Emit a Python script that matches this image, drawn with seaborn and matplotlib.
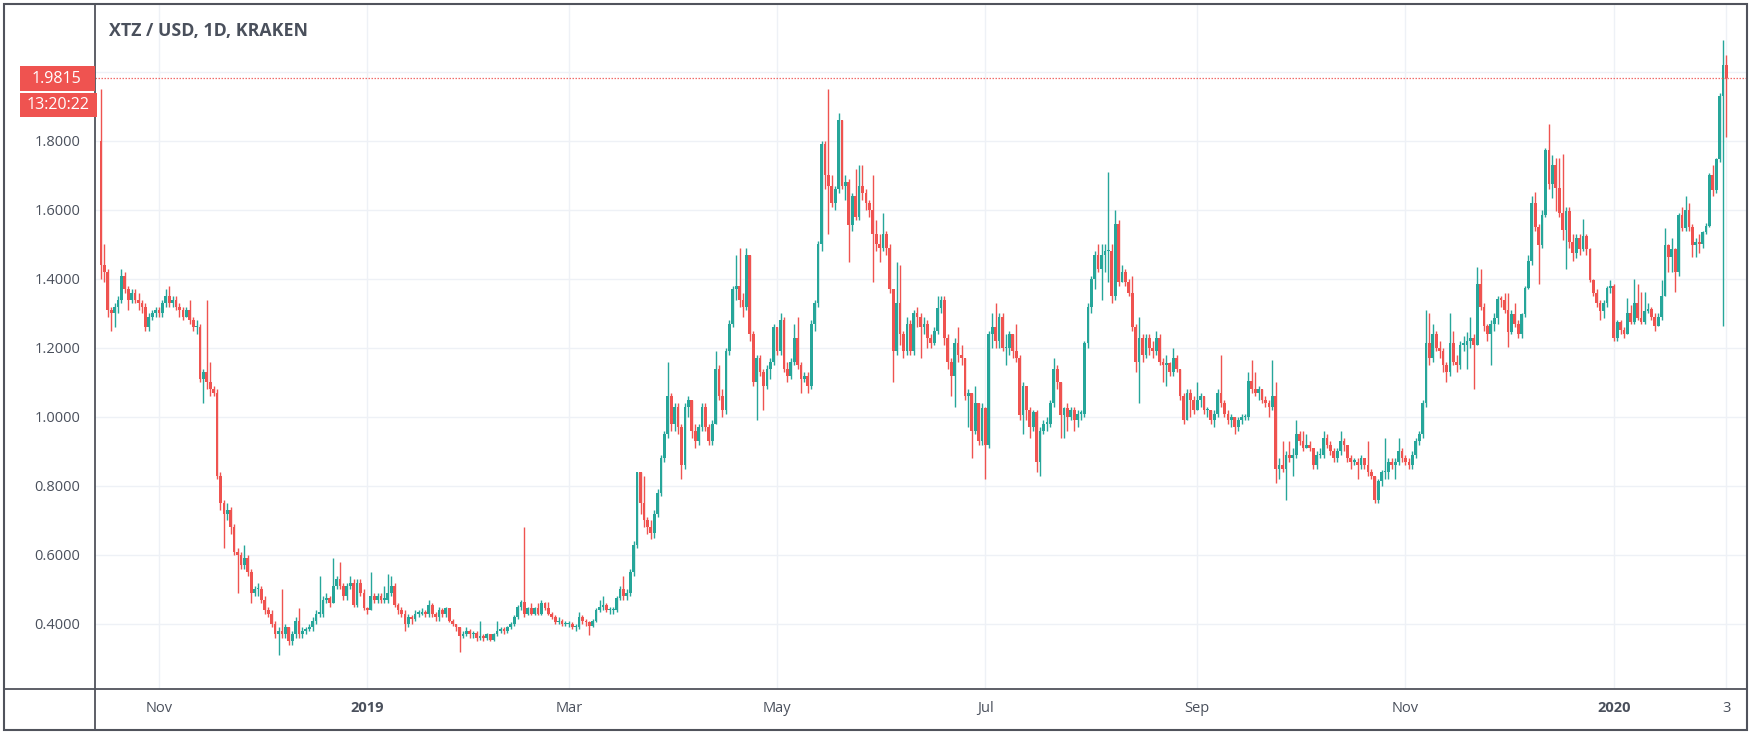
import numpy as np
import pandas as pd
import matplotlib
matplotlib.use("Agg")
import matplotlib.pyplot as plt
import matplotlib.dates as mdates
from matplotlib.patches import Rectangle
from matplotlib.lines import Line2D
import seaborn as sns

# ---------------- data (daily candles, Kraken XTZ/USD) ----------------
START_DATE = "2018-10-15"
FIRST_OPEN = 1.80

CLOSE = [
    1.44, 1.42, 1.31, 1.30, 1.32, 1.34, 1.41, 1.37, 1.34, 1.36,
    1.34, 1.33, 1.32, 1.26, 1.29, 1.30, 1.31, 1.30, 1.33, 1.35,
    1.33, 1.34, 1.32, 1.31, 1.29, 1.31, 1.28, 1.26, 1.26, 1.11,
    1.13, 1.10, 1.08, 1.07, 0.83, 0.75, 0.72, 0.73, 0.68, 0.61,
    0.60, 0.57, 0.59, 0.55, 0.49, 0.50, 0.50, 0.47, 0.44, 0.43,
    0.40, 0.37, 0.38, 0.37, 0.39, 0.35, 0.37, 0.41, 0.37, 0.38,
    0.385, 0.39, 0.41, 0.43, 0.43, 0.47, 0.475, 0.46, 0.51, 0.53,
    0.51, 0.48, 0.51, 0.52, 0.455, 0.52, 0.49, 0.445, 0.44, 0.48,
    0.47, 0.48, 0.47, 0.47, 0.49, 0.51, 0.455, 0.44, 0.43, 0.40,
    0.42, 0.415, 0.43, 0.43, 0.435, 0.43, 0.455, 0.43, 0.42, 0.44,
    0.43, 0.445, 0.41, 0.40, 0.39, 0.365, 0.37, 0.38, 0.37, 0.375,
    0.36, 0.365, 0.36, 0.37, 0.355, 0.37, 0.38, 0.385, 0.38, 0.39,
    0.40, 0.42, 0.45, 0.465, 0.43, 0.445, 0.43, 0.445, 0.43, 0.46,
    0.445, 0.43, 0.42, 0.405, 0.41, 0.40, 0.40, 0.40, 0.39, 0.39,
    0.42, 0.41, 0.405, 0.395, 0.41, 0.44, 0.45, 0.455, 0.44, 0.44,
    0.44, 0.475, 0.50, 0.48, 0.49, 0.55, 0.63, 0.84, 0.75, 0.70,
    0.68, 0.665, 0.72, 0.78, 0.88, 0.95, 1.06, 0.98, 1.03, 0.97,
    0.86, 1.03, 1.05, 0.96, 0.93, 0.97, 1.03, 0.97, 0.93, 0.98,
    1.14, 1.06, 1.02, 1.19, 1.27, 1.37, 1.38, 1.34, 1.32, 1.47,
    1.24, 1.10, 1.17, 1.13, 1.09, 1.14, 1.16, 1.26, 1.19, 1.28,
    1.14, 1.12, 1.16, 1.23, 1.15, 1.11, 1.12, 1.09, 1.27, 1.33,
    1.50, 1.79, 1.70, 1.67, 1.62, 1.66, 1.86, 1.67, 1.68, 1.555,
    1.64, 1.58, 1.67, 1.65, 1.62, 1.60, 1.53, 1.50, 1.49, 1.53,
    1.49, 1.37, 1.19, 1.33, 1.24, 1.19, 1.27, 1.19, 1.30, 1.29,
    1.26, 1.27, 1.23, 1.215, 1.25, 1.315, 1.34, 1.23, 1.16, 1.12,
    1.215, 1.18, 1.17, 1.06, 1.07, 0.96, 1.04, 0.93, 1.025, 0.92,
    1.24, 1.26, 1.22, 1.29, 1.20, 1.20, 1.24, 1.19, 1.17, 1.005,
    1.09, 1.02, 0.97, 1.015, 0.87, 0.96, 0.98, 0.98, 1.04, 1.14,
    1.10, 1.005, 1.025, 1.00, 1.02, 0.99, 1.01, 1.01, 1.215, 1.32,
    1.40, 1.47, 1.43, 1.47, 1.48, 1.48, 1.35, 1.56, 1.39, 1.42,
    1.39, 1.36, 1.26, 1.16, 1.23, 1.18, 1.23, 1.20, 1.19, 1.23,
    1.16, 1.15, 1.155, 1.13, 1.17, 1.14, 1.06, 0.99, 1.07, 1.05,
    1.02, 1.05, 1.06, 1.02, 1.02, 0.99, 1.01, 1.07, 1.04, 1.01,
    0.99, 1.00, 0.97, 0.99, 1.00, 1.00, 1.105, 1.08, 1.07, 1.08,
    1.05, 1.04, 1.03, 1.06, 0.85, 0.86, 0.85, 0.89, 0.88, 0.89,
    0.95, 0.93, 0.91, 0.92, 0.91, 0.86, 0.89, 0.89, 0.94, 0.92,
    0.90, 0.88, 0.90, 0.93, 0.92, 0.88, 0.87, 0.87, 0.86, 0.88,
    0.86, 0.84, 0.83, 0.76, 0.815, 0.84, 0.84, 0.87, 0.86, 0.87,
    0.90, 0.88, 0.87, 0.86, 0.89, 0.93, 0.95, 1.04, 1.215, 1.17,
    1.24, 1.20, 1.19, 1.15, 1.13, 1.215, 1.16, 1.15, 1.21, 1.21,
    1.22, 1.23, 1.21, 1.386, 1.32, 1.263, 1.24, 1.27, 1.286, 1.341,
    1.34, 1.31, 1.247, 1.297, 1.27, 1.24, 1.297, 1.374, 1.452, 1.619,
    1.552, 1.497, 1.586, 1.774, 1.674, 1.73, 1.663, 1.591, 1.541, 1.597,
    1.508, 1.474, 1.52, 1.486, 1.524, 1.486, 1.397, 1.358, 1.33, 1.308,
    1.33, 1.374, 1.38, 1.23, 1.274, 1.252, 1.241, 1.30, 1.274, 1.33,
    1.286, 1.274, 1.308, 1.313, 1.29, 1.263, 1.29, 1.352, 1.497, 1.463,
    1.486, 1.419, 1.586, 1.547, 1.60, 1.552, 1.497, 1.508, 1.502, 1.536,
    1.553, 1.702, 1.658, 1.747, 1.93, 2.02, 1.9815,
]

HIGH = [
    1.95, 1.50, 1.43, 1.32, 1.33, 1.35, 1.43, 1.42, 1.38, 1.37,
    1.37, 1.36, 1.34, 1.33, 1.30, 1.31, 1.32, 1.32, 1.34, 1.37,
    1.38, 1.35, 1.35, 1.33, 1.32, 1.32, 1.34, 1.29, 1.28, 1.27,
    1.14, 1.34, 1.16, 1.09, 1.08, 0.84, 0.76, 0.75, 0.74, 0.69,
    0.62, 0.61, 0.63, 0.60, 0.56, 0.51, 0.52, 0.51, 0.48, 0.45,
    0.44, 0.41, 0.39, 0.50, 0.40, 0.39, 0.38, 0.42, 0.445, 0.39,
    0.39, 0.40, 0.42, 0.44, 0.54, 0.48, 0.49, 0.48, 0.59, 0.54,
    0.58, 0.52, 0.52, 0.54, 0.53, 0.53, 0.53, 0.50, 0.45, 0.55,
    0.49, 0.49, 0.49, 0.51, 0.545, 0.54, 0.52, 0.46, 0.45, 0.44,
    0.43, 0.425, 0.44, 0.44, 0.445, 0.44, 0.47, 0.46, 0.435, 0.45,
    0.445, 0.45, 0.445, 0.415, 0.40, 0.39, 0.38, 0.39, 0.385, 0.38,
    0.38, 0.41, 0.37, 0.375, 0.37, 0.375, 0.41, 0.39, 0.39, 0.395,
    0.405, 0.425, 0.455, 0.47, 0.68, 0.45, 0.46, 0.45, 0.46, 0.47,
    0.465, 0.465, 0.435, 0.425, 0.42, 0.415, 0.41, 0.41, 0.405, 0.40,
    0.435, 0.425, 0.415, 0.41, 0.415, 0.445, 0.47, 0.48, 0.46, 0.45,
    0.45, 0.48, 0.51, 0.54, 0.50, 0.56, 0.64, 0.84, 0.84, 0.83,
    0.71, 0.70, 0.73, 0.79, 0.89, 0.96, 1.16, 1.07, 1.04, 1.04,
    0.98, 1.04, 1.06, 1.05, 0.98, 0.98, 1.04, 1.04, 0.98, 0.99,
    1.19, 1.15, 1.08, 1.20, 1.28, 1.38, 1.47, 1.49, 1.36, 1.49,
    1.47, 1.25, 1.18, 1.18, 1.14, 1.15, 1.17, 1.27, 1.26, 1.30,
    1.29, 1.16, 1.17, 1.27, 1.29, 1.16, 1.13, 1.13, 1.28, 1.34,
    1.51, 1.80, 1.80, 1.95, 1.70, 1.67, 1.88, 1.86, 1.70, 1.69,
    1.65, 1.72, 1.73, 1.73, 1.66, 1.63, 1.70, 1.57, 1.53, 1.59,
    1.54, 1.50, 1.37, 1.45, 1.44, 1.25, 1.29, 1.28, 1.31, 1.32,
    1.30, 1.29, 1.28, 1.24, 1.26, 1.35, 1.35, 1.35, 1.24, 1.17,
    1.23, 1.26, 1.21, 1.17, 1.08, 1.07, 1.09, 1.04, 1.04, 1.03,
    1.25, 1.30, 1.33, 1.30, 1.30, 1.24, 1.25, 1.24, 1.27, 1.18,
    1.10, 1.09, 1.03, 1.02, 1.02, 0.97, 0.99, 1.00, 1.05, 1.17,
    1.15, 1.10, 1.03, 1.04, 1.03, 1.03, 1.02, 1.02, 1.22, 1.33,
    1.41, 1.48, 1.50, 1.50, 1.50, 1.71, 1.50, 1.60, 1.57, 1.44,
    1.43, 1.40, 1.41, 1.27, 1.29, 1.24, 1.24, 1.24, 1.22, 1.25,
    1.24, 1.17, 1.18, 1.16, 1.20, 1.18, 1.14, 1.07, 1.08, 1.08,
    1.06, 1.10, 1.07, 1.06, 1.03, 1.02, 1.02, 1.08, 1.18, 1.05,
    1.02, 1.01, 1.00, 1.00, 1.01, 1.01, 1.13, 1.165, 1.13, 1.09,
    1.08, 1.06, 1.05, 1.165, 1.10, 0.88, 0.93, 0.90, 0.93, 0.91,
    0.99, 0.96, 0.96, 0.95, 0.93, 0.91, 0.90, 0.91, 0.96, 0.95,
    0.93, 0.91, 0.91, 0.96, 0.94, 0.92, 0.89, 0.88, 0.88, 0.89,
    0.88, 0.93, 0.85, 0.83, 0.82, 0.845, 0.94, 0.88, 0.88, 0.88,
    0.94, 0.91, 0.89, 0.88, 0.90, 0.94, 0.96, 1.05, 1.31, 1.30,
    1.27, 1.25, 1.22, 1.20, 1.16, 1.30, 1.25, 1.18, 1.22, 1.235,
    1.245, 1.29, 1.24, 1.435, 1.43, 1.33, 1.27, 1.28, 1.30, 1.352,
    1.35, 1.358, 1.358, 1.31, 1.33, 1.28, 1.30, 1.38, 1.47, 1.64,
    1.652, 1.56, 1.60, 1.78, 1.85, 1.76, 1.75, 1.75, 1.763, 1.61,
    1.608, 1.53, 1.53, 1.53, 1.574, 1.53, 1.49, 1.40, 1.37, 1.34,
    1.34, 1.38, 1.397, 1.386, 1.28, 1.28, 1.26, 1.346, 1.324, 1.40,
    1.386, 1.363, 1.363, 1.33, 1.32, 1.30, 1.30, 1.397, 1.547, 1.50,
    1.52, 1.49, 1.59, 1.608, 1.641, 1.619, 1.56, 1.52, 1.53, 1.54,
    1.563, 1.708, 1.73, 1.75, 1.94, 2.094, 2.05,
]

LOW = [
    1.40, 1.39, 1.29, 1.25, 1.26, 1.30, 1.33, 1.36, 1.31, 1.33,
    1.33, 1.31, 1.30, 1.25, 1.25, 1.28, 1.29, 1.29, 1.29, 1.32,
    1.32, 1.32, 1.31, 1.29, 1.28, 1.29, 1.27, 1.25, 1.24, 1.10,
    1.04, 1.08, 1.06, 1.06, 0.82, 0.73, 0.62, 0.70, 0.66, 0.60,
    0.49, 0.56, 0.56, 0.54, 0.46, 0.48, 0.48, 0.46, 0.43, 0.42,
    0.39, 0.36, 0.31, 0.36, 0.36, 0.34, 0.34, 0.36, 0.36, 0.36,
    0.37, 0.38, 0.38, 0.40, 0.42, 0.42, 0.46, 0.45, 0.46, 0.50,
    0.50, 0.47, 0.47, 0.50, 0.45, 0.45, 0.48, 0.44, 0.43, 0.44,
    0.46, 0.46, 0.46, 0.46, 0.46, 0.48, 0.45, 0.43, 0.42, 0.38,
    0.39, 0.40, 0.41, 0.42, 0.425, 0.42, 0.42, 0.42, 0.41, 0.41,
    0.42, 0.42, 0.405, 0.395, 0.38, 0.32, 0.36, 0.365, 0.36, 0.36,
    0.35, 0.355, 0.35, 0.355, 0.35, 0.35, 0.365, 0.375, 0.37, 0.375,
    0.385, 0.395, 0.415, 0.44, 0.42, 0.425, 0.425, 0.425, 0.425, 0.425,
    0.44, 0.425, 0.415, 0.40, 0.40, 0.395, 0.395, 0.39, 0.385, 0.38,
    0.385, 0.40, 0.395, 0.368, 0.39, 0.405, 0.435, 0.44, 0.435, 0.43,
    0.43, 0.435, 0.47, 0.47, 0.47, 0.48, 0.54, 0.62, 0.72, 0.68,
    0.66, 0.645, 0.65, 0.71, 0.77, 0.87, 0.94, 0.96, 0.96, 0.95,
    0.82, 0.85, 1.00, 0.94, 0.91, 0.92, 0.96, 0.96, 0.92, 0.92,
    0.98, 1.05, 1.00, 1.01, 1.18, 1.26, 1.34, 1.32, 1.29, 1.31,
    1.22, 1.09, 0.99, 1.12, 1.02, 1.08, 1.11, 1.15, 1.18, 1.18,
    1.13, 1.10, 1.11, 1.15, 1.14, 1.07, 1.10, 1.07, 1.08, 1.25,
    1.32, 1.48, 1.66, 1.53, 1.61, 1.60, 1.65, 1.66, 1.63, 1.45,
    1.54, 1.57, 1.57, 1.63, 1.60, 1.58, 1.39, 1.48, 1.45, 1.48,
    1.47, 1.36, 1.10, 1.18, 1.21, 1.17, 1.18, 1.18, 1.18, 1.26,
    1.17, 1.24, 1.20, 1.20, 1.21, 1.24, 1.30, 1.21, 1.14, 1.06,
    1.03, 1.16, 1.15, 1.05, 0.97, 0.88, 0.95, 0.92, 0.92, 0.82,
    0.91, 1.20, 1.20, 1.20, 1.19, 1.15, 1.18, 1.17, 1.16, 0.99,
    0.95, 0.99, 0.94, 0.96, 0.84, 0.83, 0.95, 0.96, 0.97, 1.03,
    1.08, 0.94, 0.94, 0.96, 0.99, 0.96, 0.97, 0.99, 1.00, 1.20,
    1.30, 1.37, 1.42, 1.34, 1.42, 1.39, 1.33, 1.34, 1.38, 1.39,
    1.38, 1.35, 1.25, 1.13, 1.04, 1.16, 1.17, 1.18, 1.17, 1.18,
    1.15, 1.10, 1.09, 1.12, 1.12, 1.13, 1.05, 0.98, 0.99, 1.00,
    1.01, 1.02, 1.03, 1.01, 1.00, 0.98, 0.97, 1.00, 1.03, 1.00,
    0.98, 0.97, 0.95, 0.96, 0.98, 0.99, 0.99, 1.07, 1.06, 1.05,
    1.04, 1.03, 1.00, 1.02, 0.81, 0.82, 0.84, 0.76, 0.87, 0.83,
    0.88, 0.92, 0.90, 0.91, 0.90, 0.85, 0.85, 0.88, 0.88, 0.91,
    0.89, 0.87, 0.87, 0.89, 0.90, 0.87, 0.85, 0.86, 0.82, 0.85,
    0.85, 0.83, 0.82, 0.75, 0.75, 0.80, 0.82, 0.82, 0.85, 0.82,
    0.86, 0.87, 0.86, 0.85, 0.85, 0.88, 0.92, 0.94, 1.03, 1.15,
    1.16, 1.19, 1.17, 1.13, 1.10, 1.12, 1.15, 1.13, 1.14, 1.19,
    1.14, 1.20, 1.08, 1.21, 1.31, 1.25, 1.219, 1.15, 1.25, 1.27,
    1.32, 1.30, 1.202, 1.24, 1.26, 1.23, 1.23, 1.29, 1.37, 1.44,
    1.54, 1.386, 1.49, 1.58, 1.66, 1.635, 1.597, 1.58, 1.514, 1.43,
    1.49, 1.452, 1.46, 1.47, 1.48, 1.47, 1.39, 1.352, 1.32, 1.28,
    1.286, 1.32, 1.36, 1.22, 1.22, 1.24, 1.23, 1.24, 1.27, 1.27,
    1.28, 1.27, 1.27, 1.30, 1.28, 1.25, 1.263, 1.28, 1.35, 1.419,
    1.419, 1.363, 1.41, 1.54, 1.54, 1.54, 1.463, 1.463, 1.474, 1.49,
    1.53, 1.55, 1.64, 1.65, 1.74, 1.263, 1.81,
]

TICK_DATES = ["2018-11-01", "2019-01-01", "2019-03-01", "2019-05-01", "2019-07-01",
              "2019-09-01", "2019-11-01", "2020-01-01", "2020-02-03"]
TICK_LABELS = ["Nov", "2019", "Mar", "May", "Jul", "Sep", "Nov", "2020", "3"]
BOLD_LABELS = ["2019", "2020"]
Y_TICKS = [0.4, 0.6, 0.8, 1.0, 1.2, 1.4, 1.6, 1.8]
Y_GRID_EXTRA = [2.0]
LAST_PRICE = 1.9815
COUNTDOWN = "13:20:22"
TITLE = "XTZ / USD, 1D, KRAKEN"

# ---------------- styling ----------------
sns.set_theme(style="white")
plt.rcParams["font.family"] = ["Open Sans", "DejaVu Sans"]

UP = "#26a69a"
DOWN = "#ef5350"
TXT = "#4a505c"
FRAME = "#50535c"
GRID = "#eef1f6"

W, H = 1754, 737
fig = plt.figure(figsize=(W / 100, H / 100), dpi=100)
fig.patch.set_facecolor("white")

AX_L, AX_R, AX_T, AX_B = 95, 1747, 5, 689
ax = fig.add_axes([AX_L / W, (H - AX_B) / H, (AX_R - AX_L) / W, (AX_B - AX_T) / H])
ax.set_facecolor("white")

n = min(len(CLOSE), len(HIGH), len(LOW))
dates = pd.date_range(START_DATE, periods=n, freq="D")
close = np.array(CLOSE[:n], dtype=float)
open_ = np.concatenate([[FIRST_OPEN], close[:-1]])
high = np.maximum(np.array(HIGH[:n], dtype=float), np.maximum(open_, close))
low = np.minimum(np.array(LOW[:n], dtype=float), np.minimum(open_, close))
df = pd.DataFrame({"date": dates, "open": open_, "high": high, "low": low, "close": close})
df["x"] = mdates.date2num(df["date"])
df["up"] = df["close"] >= df["open"]
df["color"] = np.where(df["up"], UP, DOWN)
df["bottom"] = df[["open", "close"]].min(axis=1)
df["height"] = (df["close"] - df["open"]).abs().clip(lower=0.004)

# axis scales
x_nov = mdates.date2num(pd.Timestamp("2018-11-01"))
px_per_day = 3.415
ax.set_xlim(x_nov - (159 - AX_L) / px_per_day, x_nov + (AX_R - 159) / px_per_day)
ax.set_ylim(0.2116, 2.194)

# grid
tick_x = mdates.date2num(pd.to_datetime(TICK_DATES))
for gx in tick_x:
    ax.axvline(gx, color=GRID, lw=1.0, zorder=0)
for gy in Y_TICKS + Y_GRID_EXTRA:
    ax.axhline(gy, color=GRID, lw=1.0, zorder=0)

# candles
ax.vlines(df["x"], df["low"], df["high"], colors=df["color"], lw=1.0, zorder=2)
ax.bar(df["x"], df["height"], bottom=df["bottom"], width=0.8, color=df["color"],
       linewidth=0, zorder=3)

# last price dotted line
ax.axhline(LAST_PRICE, color=DOWN, lw=0.9, ls=(0, (1.2, 1.2)), alpha=0.85, zorder=4)

# ticks
ax.set_xticks(tick_x)
ax.set_xticklabels(TICK_LABELS)
ax.set_yticks(Y_TICKS)
ax.set_yticklabels([f"{v:.4f}" for v in Y_TICKS])
ax.tick_params(axis="x", direction="out", length=3.2, width=1.0, color=FRAME,
               labelsize=10.5, labelcolor=TXT, pad=5.5)
ax.tick_params(axis="y", direction="out", length=4.0, width=1.0, color=FRAME,
               labelsize=10.5, labelcolor=TXT, pad=6.5)
for lbl in ax.get_xticklabels():
    if lbl.get_text() in BOLD_LABELS:
        lbl.set_fontweight("bold")
for s in ax.spines.values():
    s.set_visible(False)

# title
fig.text(109 / W, 1 - 31 / H, TITLE, ha="left", va="center", fontsize=12.8,
         fontweight="bold", color=TXT)

# frame lines (outer border, price-axis separator, time-axis separator)
fig.add_artist(Rectangle((4 / W, (H - 730) / H), (AX_R - 4) / W, (730 - 4) / H,
                         transform=fig.transFigure, fill=False, edgecolor=FRAME,
                         lw=1.5, zorder=5))
fig.add_artist(Line2D([AX_L / W, AX_L / W], [(H - 730) / H, (H - 4) / H],
                      transform=fig.transFigure, color=FRAME, lw=1.3, zorder=5))
fig.add_artist(Line2D([4 / W, AX_R / W], [(H - AX_B) / H, (H - AX_B) / H],
                      transform=fig.transFigure, color=FRAME, lw=1.3, zorder=5))

# last-price label boxes on the price axis
fig.canvas.draw()
y_pix = ax.transData.transform((0, LAST_PRICE))[1]  # display coords from bottom
y_top_px = H - y_pix
box1_top, box1_bot = y_top_px - 12, y_top_px + 13
fig.add_artist(Rectangle((20 / W, (H - box1_bot) / H), (AX_L - 20) / W, (box1_bot - box1_top) / H,
                         transform=fig.transFigure, facecolor=DOWN, edgecolor="none", zorder=6))
fig.text(56 / W, 1 - (box1_top + box1_bot) / 2 / H, f"{LAST_PRICE:.4f}", ha="center",
         va="center", fontsize=11.5, color="white", zorder=7)
box2_top, box2_bot = box1_bot + 2, box1_bot + 26
fig.add_artist(Rectangle((20 / W, (H - box2_bot) / H), (AX_L + 2 - 20) / W, (box2_bot - box2_top) / H,
                         transform=fig.transFigure, facecolor=DOWN, edgecolor="none", zorder=6))
fig.text(58 / W, 1 - (box2_top + box2_bot) / 2 / H, COUNTDOWN, ha="center", va="center",
         fontsize=11.5, color="white", zorder=7)

fig.savefig("out.png", dpi=100, facecolor="white")
